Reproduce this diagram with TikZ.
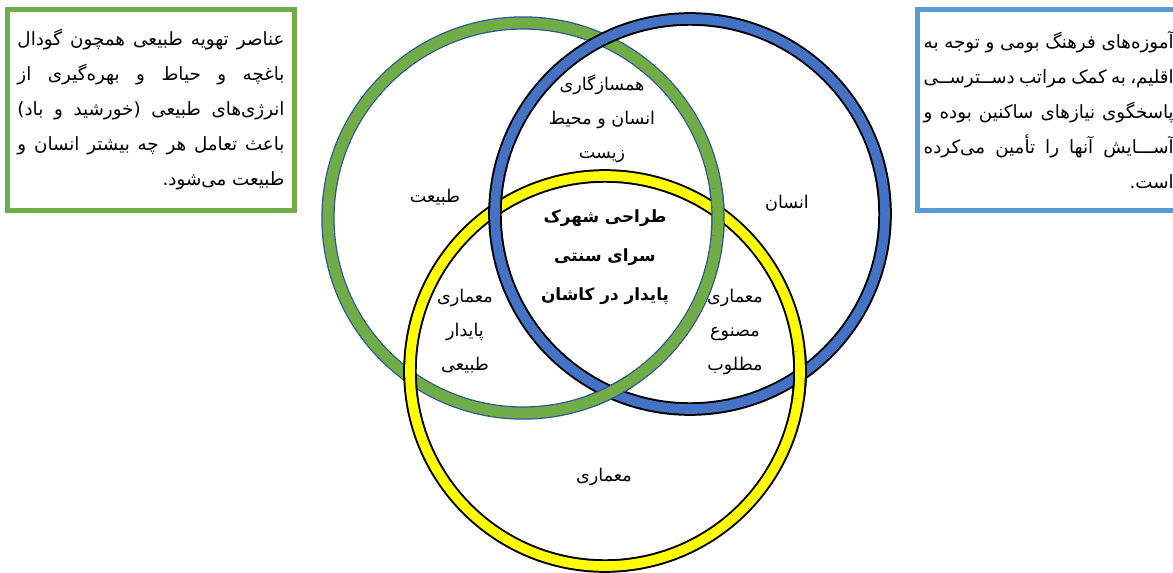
\documentclass[tikz,border=0pt]{standalone}
\usepackage{fontspec}
\usepackage{tikz}
\usetikzlibrary{positioning}
\TeXXeTstate=1
\newfontfamily\farsi[Script=Arabic]{DejaVu Sans}

\definecolor{ringgreen}{HTML}{70AD47}
\definecolor{ringgreenedge}{HTML}{2F5597}
\definecolor{ringblue}{HTML}{4472C4}
\definecolor{ringyellow}{HTML}{FFFF00}
\definecolor{notegreen}{HTML}{70AD47}
\definecolor{noteblue}{HTML}{5B9BD5}

\newcommand{\rtl}[1]{\beginR#1\endR}
\newcommand{\jline}[1]{\hbox to \hsize{\beginR#1\endR}}
\newcommand{\eline}[1]{\hbox to \hsize{\hfil\beginR#1\endR}}

\begin{document}
\begin{tikzpicture}[
  x=0.025cm, y=-0.025cm,
  venn/.style={circle, minimum size=9.75cm, inner sep=0pt},
  greenring/.style={draw=ringgreenedge, line width=0.9pt, double=ringgreen, double distance=0.27cm},
  bluering/.style={draw=black, line width=1.4pt, double=ringblue, double distance=0.24cm},
  yellowring/.style={draw=black, line width=1.4pt, double=ringyellow, double distance=0.24cm},
  vtext/.style={font=\farsi\fontsize{12.5}{24}\selectfont, align=center, inner sep=0pt},
  vbold/.style={font=\farsi\bfseries\fontsize{12}{27.5}\selectfont, align=center, inner sep=0pt},
  note/.style={rectangle, line width=0.125cm, inner sep=0pt, font=\farsi\fontsize{13}{24.9}\selectfont}
]
  \path[use as bounding box, clip] (0,0) rectangle (1173,573);
  \fill[white] (0,0) rectangle (1173,573);

  % the three rings
  \node[venn, greenring] (nature) at (523,218) {};
  \node[venn, yellowring] (arch) at (605,371) {};
  \node[venn, bluering] (human) at (690,214) {};

  % interlacing at the crossings
  \begin{scope}
    \clip (611,392) circle[radius=0.6cm];
    \draw[greenring] (nature.center) circle[radius=4.875cm];
  \end{scope}
  \begin{scope}
    \clip (718,212) circle[radius=0.6cm];
    \draw[greenring] (nature.center) circle[radius=4.875cm];
  \end{scope}
  \begin{scope}
    \clip (800,375) circle[radius=0.6cm];
    \draw[yellowring] (arch.center) circle[radius=4.875cm];
  \end{scope}

  % labels
  \node[vtext] (naturelbl) at (435,197) {\rtl{طبیعت}};
  \node[vtext] (humanlbl) at (787,203) {\rtl{انسان}};
  \node[vtext] (archlbl) at (604,477) {\rtl{معماری}};
  \node[vtext] (harmony) at (602,119) {\rtl{همسازگاری}\\\rtl{انسان و محیط}\\\rtl{زیست}};
  \node[vtext] (natarch) at (465,331) {\rtl{معماری}\\\rtl{پایدار}\\\rtl{طبیعی}};
  \node[vtext] (humarch) at (735,332) {\rtl{معماری}\\\rtl{مصنوع}\\\rtl{مطلوب}};
  \node[vbold] (core) at (605,257) {\rtl{طراحی شهرک}\\\rtl{سرای سنتی}\\\rtl{پایدار در کاشان}};

  % side notes
  \node[note, draw=notegreen, minimum width=7.175cm, minimum height=5.025cm] (naturenote) at (151,110) {\vbox{\hsize=6.675cm
    \jline{عناصر تهویه طبیعی همچون گودال}
    \jline{باغچه و حیاط و بهره‌گیری از}
    \jline{انرژی‌های طبیعی (خورشید و باد)}
    \jline{باعث تعامل هر چه بیشتر انسان و}
    \eline{طبیعت می‌شود.}}};
  \node[note, draw=noteblue, minimum width=6.5625cm, minimum height=5.025cm] (humannote) at (1048.75,110) {\vbox{\hsize=6.25cm
    \jline{آموزه‌های فرهنگ بومی و توجه به}
    \jline{اقلیم، به کمک مراتب دســترســی}
    \jline{پاسخگوی نیازهای ساکنین بوده و}
    \jline{آســـایش آنها را تأمین می‌کرده}
    \eline{است.}}};
\end{tikzpicture}
\end{document}
